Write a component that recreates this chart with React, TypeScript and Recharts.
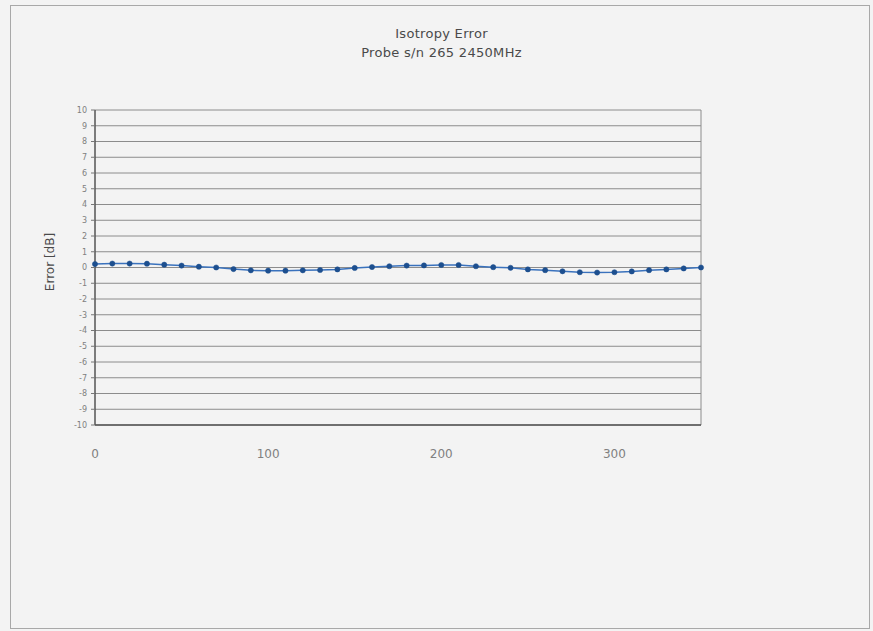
import { LineChart, Line, XAxis, YAxis, CartesianGrid, ReferenceLine } from "recharts";

// angle in degrees, isotropy error in dB
const angles = [0, 10, 20, 30, 40, 50, 60, 70, 80, 90, 100, 110, 120, 130, 140, 150, 160, 170, 180, 190, 200, 210, 220, 230, 240, 250, 260, 270, 280, 290, 300, 310, 320, 330, 340, 350];
const errors = [0.22, 0.25, 0.25, 0.24, 0.18, 0.12, 0.05, 0.0, -0.1, -0.18, -0.2, -0.2, -0.18, -0.16, -0.12, -0.03, 0.03, 0.08, 0.12, 0.13, 0.16, 0.16, 0.08, 0.02, -0.02, -0.12, -0.17, -0.24, -0.3, -0.32, -0.3, -0.25, -0.17, -0.12, -0.06, 0.0];
const xTicks = [0, 100, 200, 300];
const yTicks = [-10, -9, -8, -7, -6, -5, -4, -3, -2, -1, 0, 1, 2, 3, 4, 5, 6, 7, 8, 9, 10];

const data = angles.map((a, i) => ({ angle: a, error: errors[i] }));

const font = "'DejaVu Sans', 'Liberation Sans', sans-serif";

export default function App() {
  return (
    <div style={{ position: "absolute", left: 0, top: 0, width: 873, height: 631, background: "#f3f3f3", fontFamily: font }}>
      <div style={{ position: "absolute", left: 10, top: 5, width: 858, height: 622, border: "1px solid #a8a8a8" }} />
      <div style={{ position: "absolute", left: 0, width: 883, top: 24, textAlign: "center", fontSize: 13, color: "#4a4a4a", lineHeight: "19px", letterSpacing: 0.3 }}>
        <div>Isotropy Error</div>
        <div>Probe s/n 265 2450MHz</div>
      </div>
      <div style={{ position: "absolute", left: 50, top: 262, transform: "translate(-50%, -50%) rotate(-90deg)", fontSize: 12, color: "#4a4a4a", whiteSpace: "nowrap" }}>
        Error [dB]
      </div>
      <div style={{ position: "absolute", left: 0, top: 0 }}>
        <LineChart width={873} height={631} data={data} margin={{ top: 110, right: 172, bottom: 176, left: 65 }}>
          <CartesianGrid vertical={false} stroke="#8c8c8c" strokeWidth={1} />
          <ReferenceLine x={350} stroke="#8c8c8c" ifOverflow="extendDomain" />
          <XAxis
            dataKey="angle"
            type="number"
            domain={[0, 350]}
            ticks={xTicks}
            height={30}
            tickLine={false}
            tickMargin={18}
            axisLine={{ stroke: "#555", strokeWidth: 1.5 }}
            tick={{ fontSize: 12, fill: "#808080", fontFamily: font }}
          />
          <YAxis
            type="number"
            domain={[-10, 10]}
            ticks={yTicks}
            interval={0}
            width={30}
            tickSize={4}
            tickMargin={4}
            tickLine={{ stroke: "#777" }}
            axisLine={{ stroke: "#555", strokeWidth: 1.5 }}
            tick={{ fontSize: 8, fill: "#808080", fontFamily: font }}
          />
          <Line
            dataKey="error"
            type="linear"
            stroke="#3a72bd"
            strokeWidth={1.5}
            dot={{ r: 2.6, fill: "#1d4f8f", stroke: "#1d4f8f", strokeWidth: 0.5 }}
            isAnimationActive={false}
          />
        </LineChart>
      </div>
    </div>
  );
}
